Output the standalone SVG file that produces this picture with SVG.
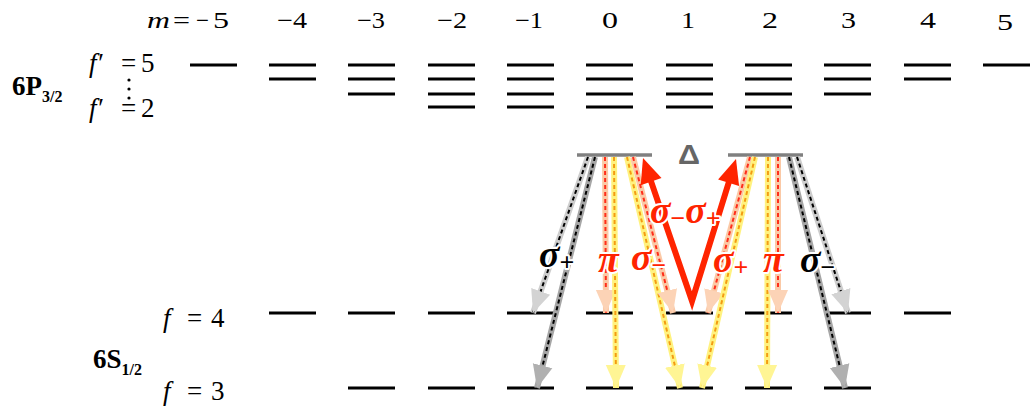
<svg xmlns="http://www.w3.org/2000/svg" width="1031" height="412" viewBox="0 0 1031 412">
<style>
.lv{stroke:#000;stroke-width:3;fill:none}
.vb{stroke:#808080;stroke-width:3.5}
.tx{fill:#000}
.it{font-style:italic}
.b{stroke-width:6;fill:none}
.d{stroke-width:2;stroke-dasharray:4 3;fill:none}
.t{stroke:none}
.lg .b{stroke:#cdcdcd}.lg .d{stroke:#000}.lg .t{marker-end:url(#hLG)}
.dg .b{stroke:#a6a6a6}.dg .d{stroke:#000}.dg .t{marker-end:url(#hDG)}
.s .b{stroke:#fbc9a6}.s .d{stroke:#ff2d1a}.s .t{marker-end:url(#hS)}
.y .b{stroke:#fff27f}.y .d{stroke:#f39c12}.y .t{marker-end:url(#hY)}
.lab{font-style:italic;font-weight:bold;font-size:38px;stroke:#fff;stroke-width:4;stroke-linejoin:round;paint-order:stroke}
.sub{font-size:26px;font-style:normal;font-weight:bold}
.r{fill:#ff2400}.k{fill:#000}
</style>
<defs>
<marker id="hLG" markerUnits="userSpaceOnUse" markerWidth="24" markerHeight="22" refX="23" refY="11" orient="auto"><path d="M0,1 L23,11 L0,21 z" fill="#d3d3d3"/></marker>
<marker id="hDG" markerUnits="userSpaceOnUse" markerWidth="24" markerHeight="22" refX="23" refY="11" orient="auto"><path d="M0,1 L23,11 L0,21 z" fill="#b0b0b0"/></marker>
<marker id="hS" markerUnits="userSpaceOnUse" markerWidth="24" markerHeight="22" refX="23" refY="11" orient="auto"><path d="M0,1 L23,11 L0,21 z" fill="#fcd3b6"/></marker>
<marker id="hY" markerUnits="userSpaceOnUse" markerWidth="24" markerHeight="22" refX="23" refY="11" orient="auto"><path d="M0,1 L23,11 L0,21 z" fill="#fff594"/></marker>
</defs>
<rect width="1031" height="412" fill="#fff"/>

<g id="m-labels" class="tx" font-family="Liberation Serif, DejaVu Serif, serif" font-size="23">
<text y="28"><tspan x="147" class="it" textLength="23" lengthAdjust="spacingAndGlyphs">m</tspan><tspan x="173" textLength="17" lengthAdjust="spacingAndGlyphs">=</tspan><tspan x="196" textLength="13" lengthAdjust="spacingAndGlyphs">−</tspan><tspan x="213" textLength="16" lengthAdjust="spacingAndGlyphs">5</tspan></text>
<text x="277" y="28" textLength="30" lengthAdjust="spacingAndGlyphs">−4</text>
<text x="357" y="28" textLength="28" lengthAdjust="spacingAndGlyphs">−3</text>
<text x="437" y="28" textLength="30" lengthAdjust="spacingAndGlyphs">−2</text>
<text x="515" y="28" textLength="28" lengthAdjust="spacingAndGlyphs">−1</text>
<text x="602" y="28" textLength="16" lengthAdjust="spacingAndGlyphs">0</text>
<text x="681" y="28" textLength="14" lengthAdjust="spacingAndGlyphs">1</text>
<text x="762" y="28" textLength="16" lengthAdjust="spacingAndGlyphs">2</text>
<text x="841" y="28" textLength="15" lengthAdjust="spacingAndGlyphs">3</text>
<text x="920" y="28" textLength="16" lengthAdjust="spacingAndGlyphs">4</text>
<text x="997" y="30" textLength="16" lengthAdjust="spacingAndGlyphs">5</text>
</g>

<g id="p32-label" class="tx" font-family="Liberation Serif, DejaVu Serif, serif">
<text x="12" y="95" font-size="27" font-weight="bold">6P<tspan font-size="16" dy="7">3/2</tspan></text>
<text y="72" font-size="27"><tspan x="89" class="it">f′</tspan><tspan x="121">=</tspan><tspan x="141">5</tspan></text>
<text y="117" font-size="27"><tspan x="89" class="it">f′</tspan><tspan x="121">=</tspan><tspan x="141">2</tspan></text>
<circle cx="129" cy="80" r="1.6"/><circle cx="129" cy="89" r="1.6"/><circle cx="129" cy="98" r="1.6"/>
</g>

<g id="s12-label" class="tx" font-family="Liberation Serif, DejaVu Serif, serif">
<text x="93" y="368" font-size="27" font-weight="bold">6S<tspan font-size="16" dy="7">1/2</tspan></text>
<text y="327" font-size="27"><tspan x="163" class="it">f</tspan><tspan x="187">=</tspan><tspan x="211">4</tspan></text>
<text y="400" font-size="27"><tspan x="163" class="it">f</tspan><tspan x="187">=</tspan><tspan x="211">3</tspan></text>
</g>

<g id="p32-levels" class="lv">
<path d="M190,65h47 M269,65h47 M348,65h47 M428,65h47 M507,65h47 M586,65h47 M666,65h47 M745,65h47 M824,65h47 M904,65h47 M983,65h47"/>
<path d="M269,79h47 M348,79h47 M428,79h47 M507,79h47 M586,79h47 M666,79h47 M745,79h47 M824,79h47 M904,79h47"/>
<path d="M348,94h47 M428,94h47 M507,94h47 M586,94h47 M666,94h47 M745,94h47 M824,94h47"/>
<path d="M428,107h47 M507,107h47 M586,107h47 M666,107h47 M745,107h47"/>
</g>

<g id="s12-f4" class="lv">
<path d="M269,313h47 M348,313h47 M428,313h47 M507,313h47 M586,313h47 M666,313h47 M745,313h47 M824,313h47 M904,313h47"/>
</g>
<g id="s12-f3" class="lv">
<path d="M348,388h47 M428,388h47 M507,388h47 M586,388h47 M666,388h47 M745,388h47 M824,388h47"/>
</g>

<g id="virtual-levels">
<line class="vb" x1="577" y1="155" x2="652" y2="155"/>
<line class="vb" x1="728" y1="155" x2="803" y2="155"/>
<text x="678" y="164" font-family="Liberation Sans, DejaVu Sans, sans-serif" font-size="28" font-weight="bold" fill="#666" textLength="22" lengthAdjust="spacingAndGlyphs">Δ</text>
</g>

<g id="connectors">
<g class="lg"><line class="b" x1="588" y1="157" x2="533" y2="313"/><line class="d" x1="588" y1="157" x2="533" y2="313"/><line class="t" x1="588" y1="157" x2="533" y2="313"/></g>
<g class="dg"><line class="b" x1="595" y1="157" x2="537" y2="388"/><line class="d" x1="595" y1="157" x2="537" y2="388"/><line class="t" x1="595" y1="157" x2="537" y2="388"/></g>
<g class="s"><line class="b" x1="605" y1="157" x2="606" y2="313"/><line class="d" x1="605" y1="157" x2="606" y2="313"/><line class="t" x1="605" y1="157" x2="606" y2="313"/></g>
<g class="y"><line class="b" x1="614" y1="157" x2="616" y2="388"/><line class="d" x1="614" y1="157" x2="616" y2="388"/><line class="t" x1="614" y1="157" x2="616" y2="388"/></g>
<g class="y"><line class="b" x1="627" y1="157" x2="680" y2="388"/><line class="d" x1="627" y1="157" x2="680" y2="388"/><line class="t" x1="627" y1="157" x2="680" y2="388"/></g>
<g class="s"><line class="b" x1="633" y1="157" x2="673" y2="313"/><line class="d" x1="633" y1="157" x2="673" y2="313"/><line class="t" x1="633" y1="157" x2="673" y2="313"/></g>
<g class="s"><line class="b" x1="750" y1="157" x2="708" y2="313"/><line class="d" x1="750" y1="157" x2="708" y2="313"/><line class="t" x1="750" y1="157" x2="708" y2="313"/></g>
<g class="y"><line class="b" x1="755" y1="157" x2="702" y2="388"/><line class="d" x1="755" y1="157" x2="702" y2="388"/><line class="t" x1="755" y1="157" x2="702" y2="388"/></g>
<g class="y"><line class="b" x1="768" y1="157" x2="767" y2="388"/><line class="d" x1="768" y1="157" x2="767" y2="388"/><line class="t" x1="768" y1="157" x2="767" y2="388"/></g>
<g class="s"><line class="b" x1="778" y1="157" x2="778" y2="313"/><line class="d" x1="778" y1="157" x2="778" y2="313"/><line class="t" x1="778" y1="157" x2="778" y2="313"/></g>
<g class="dg"><line class="b" x1="789" y1="157" x2="845" y2="388"/><line class="d" x1="789" y1="157" x2="845" y2="388"/><line class="t" x1="789" y1="157" x2="845" y2="388"/></g>
<g class="lg"><line class="b" x1="797" y1="157" x2="848" y2="313"/><line class="d" x1="797" y1="157" x2="848" y2="313"/><line class="t" x1="797" y1="157" x2="848" y2="313"/></g>
<g id="pump">
<path d="M649.5,176.9 L692,301 L730.1,178.1" fill="none" stroke="#ff2400" stroke-width="6" stroke-linejoin="miter" stroke-miterlimit="6"/>
<polygon points="643,158 661.5,178.1 640.7,185.2" fill="#ff2400"/>
<polygon points="736,159 739.1,186.1 718.1,179.6" fill="#ff2400"/>
</g>
</g>

<g id="labels" font-family="Liberation Serif, DejaVu Serif, serif">
<text class="lab k" x="539" y="267">σ<tspan class="sub" dy="4">+</tspan></text>
<text class="lab r" x="598" y="272">π</text>
<text class="lab r" x="631" y="270">σ<tspan class="sub" dy="4">−</tspan></text>
<text class="lab r" x="650" y="223">σ<tspan class="sub" dy="4">−</tspan><tspan dy="-4">σ</tspan><tspan class="sub" dy="4">+</tspan></text>
<text class="lab r" x="713" y="272">σ<tspan class="sub" dy="4">+</tspan></text>
<text class="lab r" x="763" y="272">π</text>
<text class="lab k" x="800" y="272">σ<tspan class="sub" dy="4">−</tspan></text>
</g>
</svg>
